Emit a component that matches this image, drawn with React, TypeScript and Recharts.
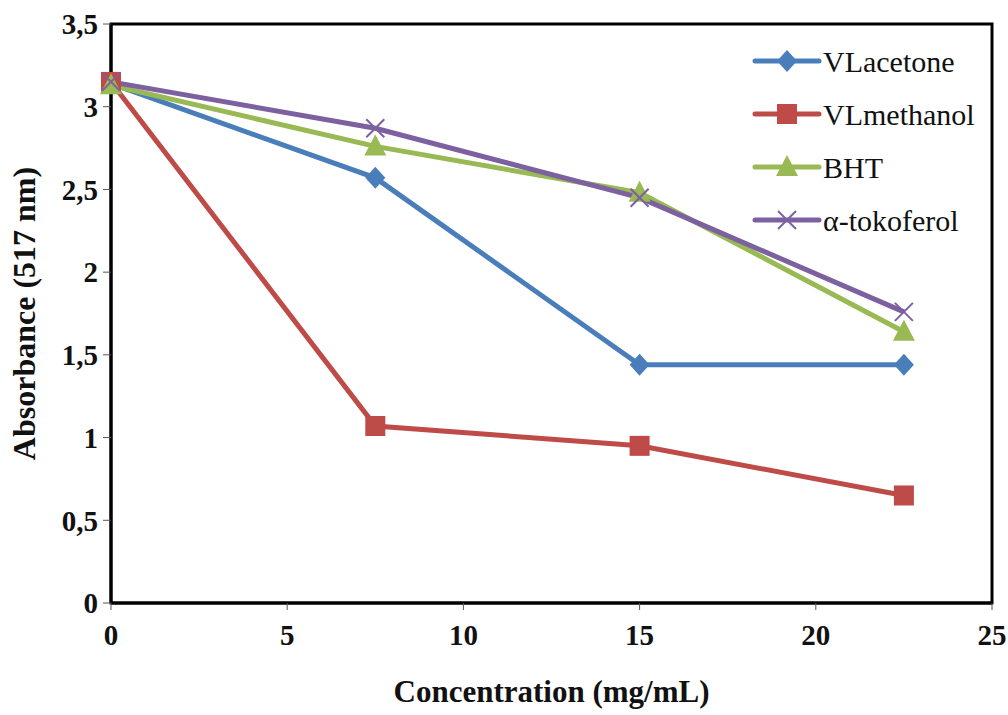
import { LineChart, Line, XAxis, YAxis, ReferenceArea } from 'recharts';

const concentrations = [0, 7.5, 15, 22.5];
const vlAcetone = [3.14, 2.57, 1.44, 1.44];
const vlMethanol = [3.15, 1.07, 0.95, 0.65];
const bht = [3.13, 2.76, 2.48, 1.64];
const tokoferol = [3.15, 2.87, 2.45, 1.76];

const xTicks = [0, 5, 10, 15, 20, 25];
const yTicks = [0, 0.5, 1, 1.5, 2, 2.5, 3, 3.5];

const SERIES = [
  { key: 'acetone', name: 'VLacetone', color: '#4A7EBB', shape: 'diamond' },
  { key: 'methanol', name: 'VLmethanol', color: '#BE4B48', shape: 'square' },
  { key: 'bht', name: 'BHT', color: '#98B954', shape: 'triangle' },
  { key: 'toko', name: 'α-tokoferol', color: '#7D60A0', shape: 'cross' },
];

const data = concentrations.map((c, i) => ({
  x: c,
  acetone: vlAcetone[i],
  methanol: vlMethanol[i],
  bht: bht[i],
  toko: tokoferol[i],
}));

const FONT = "'Liberation Serif', 'Times New Roman', serif";

function Marker({ shape, color, cx, cy }: { shape: string; color: string; cx: number; cy: number }) {
  if (shape === 'diamond') {
    return <path d={`M${cx},${cy - 11}L${cx + 10},${cy}L${cx},${cy + 11}L${cx - 10},${cy}Z`} fill={color} />;
  }
  if (shape === 'square') {
    return <rect x={cx - 10} y={cy - 10} width={20} height={20} fill={color} />;
  }
  if (shape === 'triangle') {
    return <path d={`M${cx},${cy - 12}L${cx + 11},${cy + 9}L${cx - 11},${cy + 9}Z`} fill={color} />;
  }
  return (
    <g stroke={color} strokeWidth={2}>
      <line x1={cx - 9} y1={cy - 9} x2={cx + 9} y2={cy + 9} />
      <line x1={cx - 9} y1={cy + 9} x2={cx + 9} y2={cy - 9} />
    </g>
  );
}

// legend sits inside the plot, top-right, like the Excel original
function LegendBox() {
  const rowH = 53;
  return (
    <svg width={250} height={rowH * SERIES.length} style={{ position: 'absolute', left: 752, top: 34 }}>
      {SERIES.map((s, i) => {
        const cy = rowH * i + 27;
        return (
          <g key={s.key}>
            <line x1={3} y1={cy} x2={67} y2={cy} stroke={s.color} strokeWidth={5} strokeLinecap="round" />
            <Marker shape={s.shape} color={s.color} cx={35} cy={cy} />
            <text x={71} y={cy} dominantBaseline="central" fontFamily={FONT} fontSize={30} fill="#111">
              {s.name}
            </text>
          </g>
        );
      })}
    </svg>
  );
}

function YTitle(props: any) {
  const vb = props.viewBox || {};
  const x = vb.x + 24;
  const y = vb.y + vb.height / 2;
  return (
    <text x={x} y={y} transform={`rotate(-90, ${x}, ${y})`} textAnchor="middle" dominantBaseline="central"
      fontFamily={FONT} fontWeight="bold" fontSize={32} fill="#111">
      Absorbance (517 nm)
    </text>
  );
}

function XTitle(props: any) {
  const vb = props.viewBox || {};
  return (
    <text x={vb.x + vb.width / 2} y={vb.y + 88} textAnchor="middle" dominantBaseline="central"
      fontFamily={FONT} fontWeight="bold" fontSize={31} fill="#111">
      Concentration (mg/mL)
    </text>
  );
}

const tickStyle = { fontFamily: FONT, fontWeight: 'bold', fontSize: 29, fill: '#111' };

export default function App() {
  return (
    <div style={{ position: 'absolute', left: 0, top: 0, width: 1008, height: 715, background: '#fff' }}>
      <LineChart width={1008} height={715} data={data} margin={{ top: 24, right: 16, bottom: 0, left: 0 }}>
        <XAxis
          dataKey="x"
          type="number"
          domain={[0, 25]}
          ticks={xTicks}
          interval={0}
          height={112}
          tick={tickStyle}
          tickSize={7}
          tickMargin={14}
          axisLine={{ stroke: '#000', strokeWidth: 3 }}
          tickLine={{ stroke: '#555', strokeWidth: 1 }}
          label={<XTitle />}
        />
        <YAxis
          type="number"
          domain={[0, 3.5]}
          ticks={yTicks}
          interval={0}
          width={111}
          tick={tickStyle}
          tickSize={8}
          tickMargin={5}
          tickFormatter={(v: number) => String(v).replace('.', ',')}
          axisLine={{ stroke: '#000', strokeWidth: 3 }}
          tickLine={{ stroke: '#555', strokeWidth: 1 }}
          label={<YTitle />}
        />
        <ReferenceArea x1={0} x2={25} y1={0} y2={3.5} fill="none" stroke="#000" strokeWidth={3} />
        {SERIES.map((s) => (
          <Line
            key={s.key}
            dataKey={s.key}
            name={s.name}
            stroke={s.color}
            strokeWidth={5}
            isAnimationActive={false}
            dot={(p: any) => <Marker key={`${s.key}-${p.index}`} shape={s.shape} color={s.color} cx={p.cx} cy={p.cy} />}
            activeDot={false}
          />
        ))}
      </LineChart>
      <LegendBox />
    </div>
  );
}
